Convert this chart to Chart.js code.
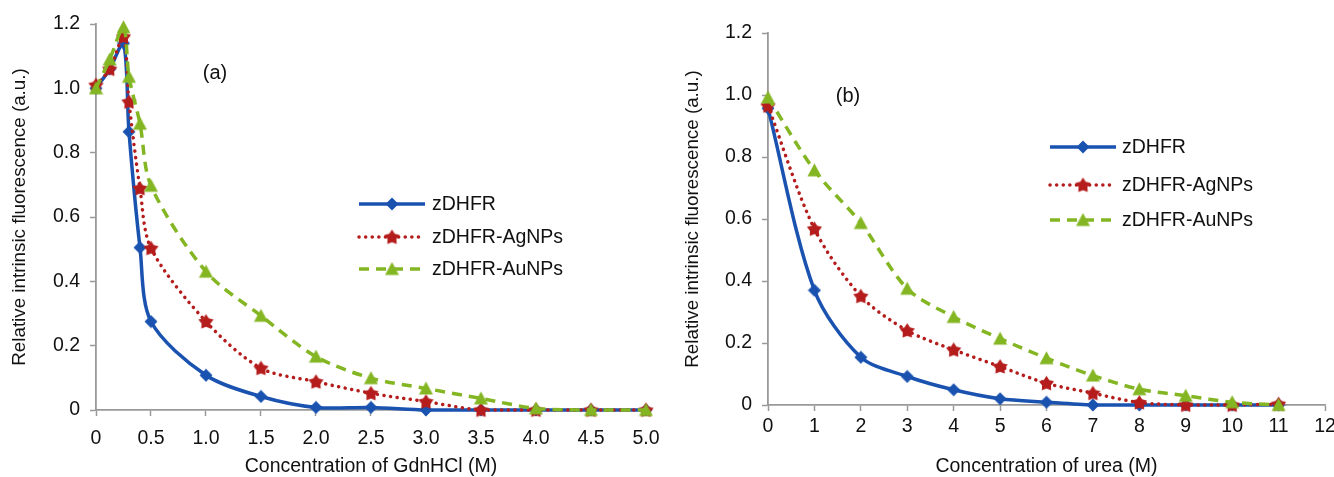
<!DOCTYPE html>
<html><head><meta charset="utf-8">
<script src="https://cdn.jsdelivr.net/npm/chart.js@4.4.1/dist/chart.umd.min.js"></script>
<style>
html,body{margin:0;padding:0;background:#fff;overflow:hidden;width:1334px;height:477px;}
#c1{position:absolute;left:0;top:0;}
#c2{position:absolute;left:670px;top:0;}
</style></head><body>
<canvas id="c1" width="670" height="477"></canvas>
<canvas id="c2" width="684" height="477"></canvas>
<script>
// ---------- data ----------
const seriesNames = ['zDHFR', 'zDHFR-AgNPs', 'zDHFR-AuNPs'];

const gdnConc = [0, 0.125, 0.25, 0.3, 0.4, 0.5, 1.0, 1.5, 2.0, 2.5, 3.0, 3.5, 4.0, 4.5, 5.0];
const gdnZDHFR = [1.00, 1.06, 1.14, 0.865, 0.505, 0.275, 0.108, 0.042, 0.008, 0.008, 0.0, 0.0, 0.0, 0.0, 0.0];
const gdnAg    = [1.01, 1.06, 1.16, 0.958, 0.689, 0.503, 0.275, 0.130, 0.088, 0.052, 0.026, 0.0, 0.0, 0.0, 0.0];
const gdnAu    = [1.00, 1.09, 1.19, 1.036, 0.890, 0.697, 0.430, 0.293, 0.166, 0.099, 0.067, 0.036, 0.005, 0.0, 0.0];

const ureaConc = [0, 1, 2, 3, 4, 5, 6, 7, 8, 9, 10, 11];
const ureaZDHFR = [0.957, 0.370, 0.154, 0.092, 0.049, 0.020, 0.009, 0.0, 0.0, 0.0, 0.0, 0.0];
const ureaAg    = [0.965, 0.568, 0.351, 0.240, 0.178, 0.124, 0.070, 0.038, 0.008, 0.0, 0.0, 0.003];
const ureaAu    = [0.992, 0.757, 0.587, 0.375, 0.284, 0.214, 0.151, 0.095, 0.051, 0.030, 0.009, 0.0];

const yTickLabels = ['0', '0.2', '0.4', '0.6', '0.8', '1.0', '1.2'];
const gdnTickLabels = ['0', '0.5', '1.0', '1.5', '2.0', '2.5', '3.0', '3.5', '4.0', '4.5', '5.0'];
const ureaTickLabels = ['0', '1', '2', '3', '4', '5', '6', '7', '8', '9', '10', '11', '12'];

const yTitle = 'Relative intrinsic fluorescence (a.u.)';
const gdnTitle = 'Concentration of GdnHCl (M)';
const ureaTitle = 'Concentration of urea (M)';

// ---------- styles ----------
const FONT = '"Liberation Sans", Arial, Helvetica, sans-serif';
const BLUE = '#1a52b0', RED = '#b51d1d', GREEN = '#84b623';
const AXIS = '#999999';

function markerCanvas(kind, color, size) {
  const c = document.createElement('canvas');
  c.width = size; c.height = size;
  const g = c.getContext('2d');
  g.fillStyle = color;
  const m = size / 2;
  g.beginPath();
  if (kind === 'diamond') {
    g.moveTo(m, 0.5); g.lineTo(size - 0.5, m); g.lineTo(m, size - 0.5); g.lineTo(0.5, m);
  } else if (kind === 'star') {
    const R = m - 0.5, r = R * 0.58;
    for (let i = 0; i < 10; i++) {
      const a = -Math.PI / 2 + i * Math.PI / 5;
      const rr = i % 2 ? r : R;
      const px = m + rr * Math.cos(a), py = m + 0.5 + rr * Math.sin(a);
      i ? g.lineTo(px, py) : g.moveTo(px, py);
    }
  } else {
    g.moveTo(m, 0.5); g.lineTo(size - 0.5, size - 1.5); g.lineTo(0.5, size - 1.5);
  }
  g.closePath(); g.fill();
  return c;
}
const mkBlue = markerCanvas('diamond', BLUE, 14);
const mkRed = markerCanvas('star', RED, 17);
const mkGreen = markerCanvas('triangle', GREEN, 15);

const styles = [
  { color: BLUE, dash: [], width: 3.5, cap: 'butt', marker: mkBlue },
  { color: RED, dash: [0.1, 6.5], width: 3.5, cap: 'round', marker: mkRed },
  { color: GREEN, dash: [10, 7], width: 3.5, cap: 'butt', marker: mkGreen }
];

function makeDatasets(xs, ys) {
  return ys.map((vals, i) => ({
    label: seriesNames[i],
    data: xs.map((x, k) => ({ x: x, y: vals[k] })),
    borderColor: styles[i].color,
    backgroundColor: styles[i].color,
    borderWidth: styles[i].width,
    borderDash: styles[i].dash,
    borderCapStyle: styles[i].cap,
    pointStyle: styles[i].marker,
    pointRadius: 6,
    tension: 0.3,
    clip: false,
    order: 2 - i
  }));
}

const legendPlugin = {
  id: 'customLegend',
  afterDraw(chart, args, opts) {
    const ctx = chart.ctx;
    ctx.save();
    chart.data.datasets.forEach((ds, i) => {
      const st = styles[i];
      const y = opts.rows[i];
      ctx.strokeStyle = st.color;
      ctx.lineWidth = st.width;
      ctx.lineCap = st.cap;
      ctx.setLineDash(st.dash);
      ctx.beginPath();
      ctx.moveTo(opts.x0, y); ctx.lineTo(opts.x1, y);
      ctx.stroke();
      ctx.setLineDash([]);
      const mx = (opts.x0 + opts.x1) / 2;
      ctx.drawImage(st.marker, mx - st.marker.width / 2, y - st.marker.height / 2);
      ctx.fillStyle = '#111';
      ctx.font = '19.5px ' + FONT;
      ctx.textAlign = 'left';
      ctx.textBaseline = 'middle';
      ctx.fillText(ds.label, opts.textX, y + 1);
    });
    ctx.font = '20px ' + FONT;
    ctx.fillStyle = '#111';
    ctx.textAlign = 'center';
    ctx.textBaseline = 'middle';
    ctx.fillText(opts.panel, opts.panelX, opts.panelY);
    ctx.restore();
  }
};

function makeChart(id, xs, ys, cfg) {
  return new Chart(document.getElementById(id), {
    type: 'line',
    data: { datasets: makeDatasets(xs, ys) },
    plugins: [legendPlugin],
    options: {
      responsive: false,
      animation: false,
      devicePixelRatio: 1,
      layout: { padding: { top: cfg.top, right: cfg.right, left: 0, bottom: 0 } },
      plugins: {
        legend: { display: false },
        tooltip: { enabled: false },
        customLegend: cfg.legend
      },
      scales: {
        x: {
          type: 'linear',
          min: 0, max: cfg.xmax,
          afterFit: s => { s.height = cfg.xh; },
          border: { color: AXIS, width: 1.8 },
          grid: { drawOnChartArea: false, drawTicks: true, tickLength: 6, tickColor: AXIS, tickWidth: 1.5 },
          ticks: {
            stepSize: cfg.xstep, autoSkip: false, maxRotation: 0, padding: cfg.xpad,
            color: '#111', font: { family: FONT, size: 19.5 },
            callback: (v) => cfg.xlabels[Math.round(v / cfg.xstep)]
          },
          title: { display: true, text: cfg.xtitle, color: '#111', font: { family: FONT, size: 19.5, lineHeight: 1.2 }, padding: { top: 0, bottom: -1.5 } }
        },
        y: {
          min: 0, max: 1.2,
          afterFit: s => { s.width = cfg.yw; },
          border: { color: AXIS, width: 1.8 },
          grid: { drawOnChartArea: false, drawTicks: true, tickLength: 6, tickColor: AXIS, tickWidth: 1.5 },
          ticks: {
            stepSize: 0.2, padding: 10,
            color: '#111', font: { family: FONT, size: 19.5 },
            callback: (v) => yTickLabels[Math.round(v / 0.2)]
          },
          title: { display: true, text: yTitle, color: '#111', font: { family: FONT, size: 18.8, lineHeight: 1.2 }, padding: { top: cfg.ytpad, bottom: 0 } }
        }
      }
    }
  });
}

makeChart('c1', gdnConc, [gdnZDHFR, gdnAg, gdnAu], {
  top: 24, right: 20, xh: 67, yw: 96, xmax: 5, xstep: 0.5, xpad: 10.5, ytpad: 8.5,
  xlabels: gdnTickLabels, xtitle: gdnTitle,
  legend: { x0: 359, x1: 425, textX: 432, rows: [204, 237, 269], panel: '(a)', panelX: 215, panelY: 73 }
});

makeChart('c2', ureaConc, [ureaZDHFR, ureaAg, ureaAu], {
  top: 33, right: 29, xh: 72, yw: 98, xmax: 12, xstep: 1, xpad: 3.5, ytpad: 11.5,
  xlabels: ureaTickLabels, xtitle: ureaTitle,
  legend: { x0: 1050 - 670, x1: 1116 - 670, textX: 1122 - 670, rows: [147, 185, 220], panel: '(b)', panelX: 848 - 670, panelY: 96 }
});
</script>
</body></html>
